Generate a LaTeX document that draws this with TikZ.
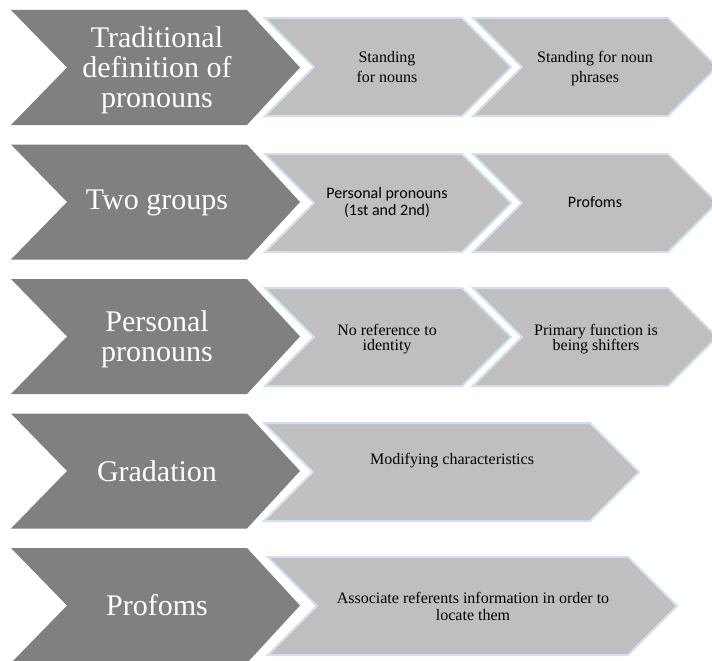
\documentclass[tikz,border=0pt]{standalone}
\usepackage{fontspec}
\setmainfont{Liberation Serif}
\setsansfont{Carlito}
\definecolor{chevdark}{RGB}{128,128,128}
\definecolor{chevlight}{RGB}{191,191,191}
\definecolor{chevedge}{RGB}{211,223,238}

\begin{document}
\begin{tikzpicture}[x=1pt,y=-1pt,
  darkchev/.style={fill=chevdark},
  lightchev/.style={fill=chevlight,draw=chevedge,line width=2pt,line join=miter},
  headtext/.style={text=white,align=center,font=\fontsize{30}{30}\selectfont},
  itemtext/.style={text=black,align=center,font=\fontsize{16}{17}\selectfont}]

\useasboundingbox (0,0) rectangle (712,661);

% dark chevrons on the left
\foreach \y in {10,144.5,279,413.5,548}
  \fill[darkchev] (11,\y) -- ++(236,0) -- ++(53,57.5) -- ++(-53,57.5)
    -- ++(-236,0) -- ++(56,-57.5) -- cycle;

% light chevrons
\foreach \xl/\xr/\yt in {265/462/18,473/668/18,265/462/154,473/668/154,
    265/462/288,473/668/288,264/590/423,268/628/557}
  \draw[lightchev] (\xl,\yt) -- (\xr,\yt) -- ++(49,49) -- ++(-49,49)
    -- (\xl,\yt+98) -- ++(49,-49) -- cycle;

% row 1
\node[headtext] (trad) at (157,70) {Traditional\\definition of\\pronouns};
\node[itemtext,font=\fontsize{16}{19.5}\selectfont] (nouns) at (387,67) {Standing\\for nouns};
\node[itemtext,font=\fontsize{16}{19.5}\selectfont] (nounphr) at (595,68.5) {Standing for noun\\phrases};

% row 2
\node[headtext] (twogr) at (157,203) {Two groups};
\node[itemtext,font=\sffamily\fontsize{16}{17}\selectfont] (perspro) at (387,203) {Personal pronouns\\(1st and 2nd)};
\node[itemtext,font=\sffamily\fontsize{16}{17}\selectfont] (profoms) at (595,202) {Profoms};

% row 3
\node[headtext] (perspron) at (157,339) {Personal\\pronouns};
\node[itemtext,font=\fontsize{16}{15.5}\selectfont] (noref) at (387,339) {No reference to\\identity};
\node[itemtext,font=\fontsize{16}{15.5}\selectfont] (shifters) at (596,339) {Primary function is\\being shifters};

% row 4
\node[headtext] (grad) at (157,471) {Gradation};
\node[itemtext] (modif) at (452,461) {Modifying characteristics};

% row 5
\node[headtext] (profhead) at (157,605) {Profoms};
\node[itemtext] (assoc) at (473,606) {Associate referents information in order to\\locate them};

\end{tikzpicture}
\end{document}
